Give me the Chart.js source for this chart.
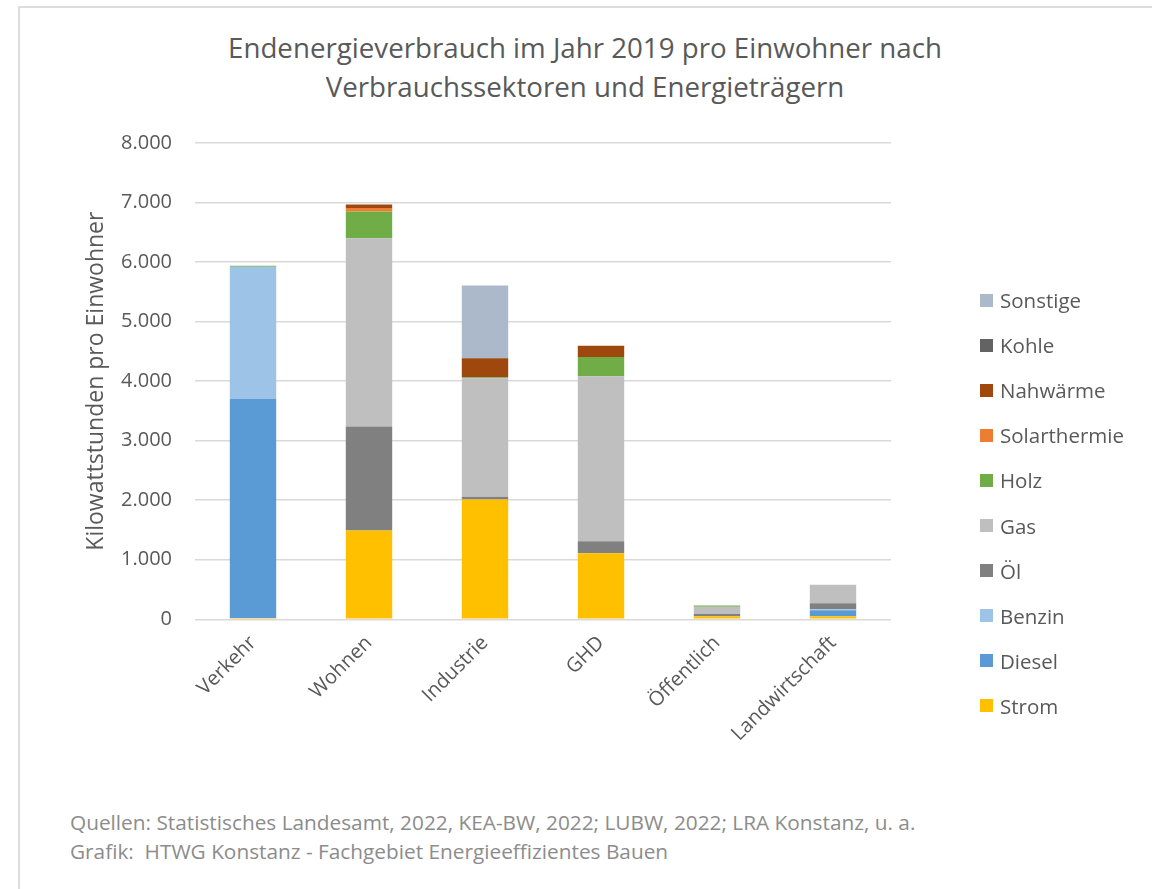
<!DOCTYPE html>
<html>
<head>
<meta charset="utf-8">
<script src="https://cdn.jsdelivr.net/npm/chart.js@4.4.1/dist/chart.umd.min.js"></script>
<style>
    body { margin: 0; background: #fff; font-family: "Open Sans", sans-serif; }
    #frame { position: absolute; left: 18px; top: 6px; width: 1132px; height: 900px; border: 2px solid #dcdcdc; border-bottom: none; }
    #wrap { position: absolute; left: 0; top: 0; width: 1152px; height: 800px; }
    #title { position: absolute; left: 20px; width: 1130px; top: 28px; text-align: center; font-size: 27.7px; line-height: 39px; color: #595959; }
    #legend { position: absolute; left: 980px; top: 0; }
    .item { position: absolute; left: 0; white-space: nowrap; font-size: 20.5px; color: #595959; }
    .item span.box { position: absolute; left: 0; width: 13px; height: 13px; }
    .item span.txt { position: absolute; left: 20px; line-height: 20px; }
    .foot { position: absolute; left: 70px; font-size: 20.8px; line-height: 29px; color: #8c8c8c; white-space: pre; }
</style>
</head>
<body>
<div id="frame"></div>
<div id="title">Endenergieverbrauch im Jahr 2019 pro Einwohner nach<br>Verbrauchssektoren und Energieträgern</div>
<div id="wrap"><canvas id="barChart" width="1152" height="800"></canvas></div>
<div id="legend"></div>
<div class="foot" style="top:808px">Quellen: Statistisches Landesamt, 2022, KEA-BW, 2022; LUBW, 2022; LRA Konstanz, u. a.</div>
<div class="foot" style="top:837px">Grafik:  HTWG Konstanz - Fachgebiet Energieeffizientes Bauen</div>
<script>
// Werte in kWh pro Einwohner
var categories = ["Verkehr", "Wohnen", "Industrie", "GHD", "Öffentlich", "Landwirtschaft"];
var strom        = [20, 1490, 2010, 1110, 50, 50];
var diesel       = [3680, 0, 0, 0, 0, 100];
var benzin       = [2220, 0, 0, 0, 0, 20];
var oel          = [0, 1750, 50, 200, 40, 100];
var gas          = [0, 3160, 1990, 2770, 120, 310];
var holz         = [20, 450, 15, 325, 20, 0];
var solarthermie = [0, 57, 0, 0, 0, 0];
var nahwaerme    = [0, 60, 320, 190, 0, 0];
var kohle        = [0, 0, 0, 0, 0, 0];
var sonstige     = [0, 0, 1220, 0, 0, 0];
var yTicks = [0, 1000, 2000, 3000, 4000, 5000, 6000, 7000, 8000];

var series = [
    { label: "Strom", data: strom, color: "#FFC000" },
    { label: "Diesel", data: diesel, color: "#5B9BD5" },
    { label: "Benzin", data: benzin, color: "#9DC3E6" },
    { label: "Öl", data: oel, color: "#808080" },
    { label: "Gas", data: gas, color: "#BFBFBF" },
    { label: "Holz", data: holz, color: "#70AD47" },
    { label: "Solarthermie", data: solarthermie, color: "#ED7D31" },
    { label: "Nahwärme", data: nahwaerme, color: "#9E480E" },
    { label: "Kohle", data: kohle, color: "#636363" },
    { label: "Sonstige", data: sonstige, color: "#ACB9CA" }
];

function fmt(v) {
    return String(v).replace(/\B(?=(\d{3})+(?!\d))/g, ".");
}

var grey = "#595959";
var fontFam = "'Open Sans', sans-serif";

var barData = {
    labels: categories,
    datasets: series.map(function (s) {
        return {
            label: s.label,
            data: s.data,
            backgroundColor: s.color,
            borderWidth: 0,
            categoryPercentage: 1,
            barPercentage: 0.4
        };
    })
};

var barOptions = {
    responsive: false,
    animation: false,
    layout: { padding: { left: 83, right: 261, top: 143, bottom: 50 } },
    plugins: {
        legend: { display: false },
        tooltip: { enabled: false }
    },
    scales: {
        x: {
            stacked: true,
            grid: { display: false },
            border: { display: false },
            ticks: { color: grey, font: { family: fontFam, size: 20 }, minRotation: 45, maxRotation: 45, padding: 4 }
        },
        y: {
            stacked: true,
            min: 0,
            max: 8000,
            afterBuildTicks: function (axis) {
                axis.ticks = yTicks.map(function (v) { return { value: v }; });
            },
            afterFit: function (axis) { axis.width = 112; },
            grid: { color: "#D9D9D9", lineWidth: 1.5, drawTicks: false },
            border: { display: false },
            ticks: {
                color: grey,
                font: { family: fontFam, size: 20 },
                padding: 23,
                callback: function (v) { return fmt(v); }
            },
            title: {
                display: true,
                text: "Kilowattstunden pro Einwohner",
                color: grey,
                font: { family: fontFam, size: 23 },
                padding: { top: 0, bottom: 4 }
            }
        }
    }
};

var ctx2 = document.getElementById("barChart").getContext("2d");
new Chart(ctx2, { type: "bar", data: barData, options: barOptions });

// Legende (umgekehrte Reihenfolge wie in Excel)
var legend = document.getElementById("legend");
series.slice().reverse().forEach(function (s, i) {
    var cy = 300 + i * 45.1;
    var div = document.createElement("div");
    div.className = "item";
    div.style.top = (cy - 10) + "px";
    div.innerHTML = '<span class="box" style="top:3.5px;background:' + s.color + '"></span><span class="txt">' + s.label + '</span>';
    legend.appendChild(div);
});
</script>
</body>
</html>
